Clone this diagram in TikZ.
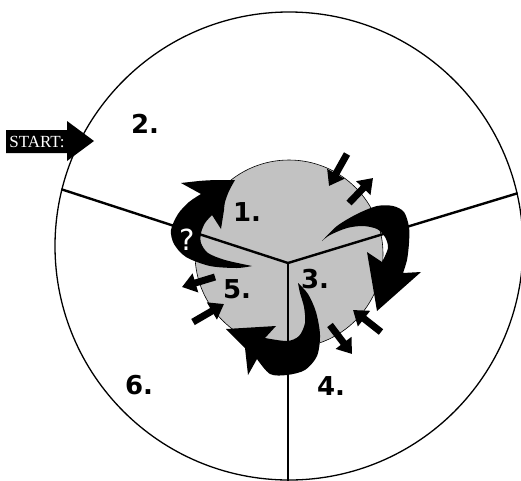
\documentclass[tikz,border=0pt]{standalone}
\usepackage{fontspec}
\setmainfont{Liberation Serif}
\setsansfont{DejaVu Sans}
\usetikzlibrary{positioning, arrows.meta}

\begin{document}
\begin{tikzpicture}[
    x=1pt, y=-1pt,
    every node/.style={inner sep=0pt},
    ring/.style={circle, draw, line width=1.3pt, minimum size=468pt},
    core/.style={circle, draw, line width=0.6pt, fill=black!24, minimum size=188pt},
    spoke/.style={line width=2.4pt},
    num/.style={font=\sffamily\bfseries\fontsize{26}{26}\selectfont},
    swoosh/.style={fill=black},
    pin/.style={-{Triangle[length=14pt, width=19pt]}, line width=7pt},
]
    \useasboundingbox (0,0) rectangle (521,480);

    % --- circles ---
    \node[ring] (outer) at (289,246) {};
    \node[core] (inner) at (289,254) {};

    % --- spokes ---
    \coordinate (hub) at (288,263);
    \draw[spoke] (hub) -- (outer.166);
    \draw[spoke] (hub) -- (outer.13.6);
    \draw[spoke] (hub) -- (hub |- outer.south);

    % --- curved arrows ---
    \fill[swoosh] plot[smooth] coordinates {(252,266) (237,268) (210,266) (186,257) (174,244) (171,230) (178,214) (189,202) (201,194)}
        -- (181,183) .. controls (207,180) .. (235,180)
        -- plot[smooth] coordinates {(235,180) (229,191) (225,202) (224,210)}
        -- (221,229) -- (212,215)
        -- plot[smooth] coordinates {(212,215) (205,223) (201,233) (201,243) (208,253) (225,260) (252,266)} -- cycle;
    \fill[swoosh] plot[smooth] coordinates {(322,241) (337,226) (357,214) (377,206) (393,206) (404,212) (409,227) (409,243) (407,260) (403,273)}
        -- (421,272) -- (377,311) -- (367,252) -- (382,262)
        -- plot[smooth] coordinates {(382,262) (388,248) (385,237) (377,229) (363,226) (347,228) (330,235) (322,241)} -- cycle;
    \fill[swoosh] plot[smooth] coordinates {(298,283) (308,294) (316,312) (320,335) (317,356) (305,370) (287,375) (270,374) (257,359)}
        -- (248,375) -- (245,348) -- (226,329) -- (276,326) -- (265,338)
        -- plot[smooth] coordinates {(265,338) (287,341) (299,336) (305,323) (304,307) (300,293) (298,283)} -- cycle;

    % --- short arrows ---
    \coordinate (ne1) at (347,154);  \coordinate (ne1t) at (329,186);
    \coordinate (ne2) at (349,203);  \coordinate (ne2t) at (373,178);
    \coordinate (se1) at (381,332);  \coordinate (se1t) at (353,310);
    \coordinate (se2) at (330,325);  \coordinate (se2t) at (352,354);
    \coordinate (w1) at (215,277);   \coordinate (w1t) at (182,287);
    \coordinate (w2) at (193,322);   \coordinate (w2t) at (224,304);
    \draw[pin] (ne1) -- (ne1t);
    \draw[pin] (ne2) -- (ne2t);
    \draw[pin] (se1) -- (se1t);
    \draw[pin] (se2) -- (se2t);
    \draw[pin] (w1) -- (w1t);
    \draw[pin] (w2) -- (w2t);

    % --- start ---
    \fill (6,130) -- (67,130) -- (67,121) -- (94,141) -- (67,161) -- (67,153) -- (6,153) -- cycle;
    \node[text=white, font=\fontsize{17}{17}\selectfont] (start) at (37,142) {START:};

    % --- labels ---
    \node[num] (s1) at (247,212) {1.};
    \node[num] (s2) at (145,124) {2.};
    \node[num] (s3) at (315,279) {3.};
    \node[num] (s4) at (331,386) {4.};
    \node[num] (s5) at (237,289) {5.};
    \node[num] (s6) at (139,385) {6.};
    \node[text=white, font=\sffamily\fontsize{29}{29}\selectfont] (ask) at (187,240) {?};

\end{tikzpicture}
\end{document}
